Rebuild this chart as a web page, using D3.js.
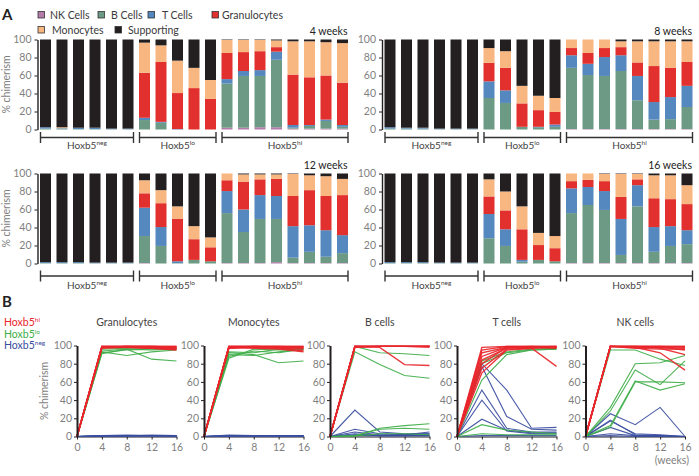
<!DOCTYPE html>
<html>
<head>
<meta charset="utf-8">
<script src="https://cdn.jsdelivr.net/npm/d3@7"></script>
<style>
  body { margin: 0; background: #fff; }
  svg { font-family: Lato, "Open Sans", sans-serif; }
</style>
</head>
<body>
<div id="chart"></div>
<script>
// ---- Panel A data: rows are mice, columns follow cellTypes (NK, B, T, Gran, Mono, Supporting)
const cellTypes = ["NK Cells", "B Cells", "T Cells", "Granulocytes", "Monocytes", "Supporting"];
const cellColors = ["#b47cab", "#6d9a84", "#5588be", "#e2302f", "#f8b680", "#231f20"];

const groupNames = ["neg", "lo", "hi"];
const groupSizes = [6, 5, 8];

const week4 = [
  [0, 1, 1.5, 0, 0, 97.5], [0, 1, 0.5, 0, 1, 97.5], [0, 0.5, 1.5, 0, 0, 98],
  [0, 0.5, 1.5, 0, 0, 98], [0, 0.3, 0.7, 0, 0, 99], [0, 0.3, 0.7, 0, 0, 99],
  [0, 10.5, 2.5, 50, 33.5, 3.5], [0, 7.5, 1, 66.5, 18.5, 6.5], [0, 0, 0.5, 40, 36, 23.5],
  [0, 0, 0, 46, 22.5, 31.5], [0, 0, 0, 34, 21, 45],
  [2, 49, 5, 29, 14.5, 0.5], [2, 57.5, 5.5, 21, 13.5, 0.5], [2.5, 57, 6.5, 21, 12.5, 0.5],
  [2.5, 75, 9, 5, 7.5, 1], [1, 1, 3, 56, 37, 2], [1, 3, 1, 53, 40, 2],
  [1, 8.5, 1.5, 49, 37, 3], [1, 2, 2, 47, 44, 4]
];
const week8 = [
  [0, 1, 1.5, 0, 0, 97.5], [0, 1, 1, 0, 0, 98], [0, 1, 1, 0, 0, 98],
  [0, 0.4, 0.6, 0, 0, 99], [0, 0.4, 0.6, 0, 0, 99], [0, 0.4, 0.6, 0, 0, 99],
  [0, 35, 18.5, 20.5, 16.5, 9.5], [0, 29.5, 14, 25, 18.5, 13], [0, 3, 0, 26, 19.5, 51.5],
  [0, 2.5, 0.5, 18.5, 16, 62.5], [0, 3, 2.5, 14, 15.5, 65],
  [0.5, 68, 14, 8, 9.5, 0], [0.5, 60, 12.5, 12, 15, 0], [0.5, 59, 21, 10, 9.5, 0],
  [0.5, 64.5, 17.5, 9, 6.5, 2], [0.5, 32, 27, 15, 23.5, 2], [0.5, 10.5, 19.5, 40, 27.5, 2],
  [0.5, 11, 24.5, 32.5, 29.5, 2], [0.5, 24.5, 23.5, 26.5, 23, 2]
];
const week12 = [
  [0, 0.5, 1, 0, 0, 98.5], [0, 0.5, 1, 0, 0, 98.5], [0, 0.5, 1, 0, 0, 98.5],
  [0, 0.3, 0.7, 0, 0, 99], [0, 0.3, 0.7, 0, 0, 99], [0, 0.3, 0.7, 0, 0, 99],
  [0.5, 30, 31.5, 16, 14.5, 7.5], [0, 19.5, 21, 26.5, 14.5, 18.5], [0, 0.5, 2, 47, 14, 36.5],
  [0, 4, 0, 23, 14.5, 58.5], [0, 2.5, 0, 15.5, 11, 71],
  [0.5, 55.5, 24.5, 12, 7.5, 0], [0.5, 34.5, 25, 31, 8, 1], [0.5, 49, 26.5, 17.5, 5.5, 1],
  [1.5, 48, 25.5, 19, 5, 1], [0.5, 6, 35, 33.5, 24.5, 0.5], [0.5, 12.5, 29.5, 39, 16.5, 2],
  [0.5, 7, 29.5, 38, 22, 3], [0.5, 11, 20, 44.5, 18, 6]
];
const week16 = [
  [0, 0.5, 1, 0, 0, 98.5], [0, 0.5, 1, 0, 0, 98.5], [0, 0.5, 1, 0, 0, 98.5],
  [0, 0.3, 0.7, 0, 0, 99], [0, 0.3, 0.7, 0, 0, 99], [0, 0.3, 0.7, 0, 0, 99],
  [0, 28, 27, 19.5, 19, 6.5], [0, 19.5, 18.5, 21, 21, 20], [0, 2, 2, 34, 25.5, 36.5],
  [0, 4, 0, 16.5, 13.5, 66], [0, 2.5, 0, 14.5, 13.5, 69.5],
  [0.5, 55.5, 27.5, 8, 8.5, 0], [0.5, 64.5, 20, 8, 7, 0], [0.5, 59, 21, 11, 8, 0.5],
  [0.5, 9, 40, 24.5, 25.5, 0.5], [0.5, 63, 23.5, 6.5, 6, 0.5], [0.5, 12.5, 27.5, 32, 25.5, 2],
  [0.5, 19, 22, 30, 26.5, 2], [0.5, 21, 15.5, 29, 21, 13]
];
const yTicksA = [0, 20, 40, 60, 80, 100];

// ---- Panel B data: each line is one mouse at weeks 0, 4, 8, 12, 16
const weeksB = [0, 4, 8, 12, 16];
const lineTitles = ["Granulocytes", "Monocytes", "B cells", "T cells", "NK cells"];
const groupColors = { hi: "#e8262b", lo: "#3fae49", neg: "#3a4da0" };

const granHi = [[0,99,99,99,99],[0,98,99,99,98],[0,98,98,98,97],[0,99,99,99,98],[0,97,98,97,95],[0,98,99,99,99],[0,99,99,98,97],[0,98,98,97,96]];
const granLo = [[0,93,89,93,95],[0,91,96,85,83],[0,94,96,95,96],[0,92,95,96,97],[0,96,97,97,96]];
const granNeg = [[0,1,1,1,1],[0,0.5,0.5,0.5,0.5],[0,1,1.5,1,0.5],[0,0.3,0.5,0.5,0.3],[0,0.5,1,1,1],[0,1,0.5,1.5,1]];

const monoHi = [[0,99,99,99,99],[0,98,99,99,98],[0,97,98,97,94],[0,99,99,98,97],[0,98,97,96,93],[0,99,99,99,99],[0,98,98,97,96],[0,97,99,98,98]];
const monoLo = [[0,92,90,81,83],[0,88,94,92,96],[0,90,89,93,96],[0,86,96,95,95],[0,93,92,96,97]];
const monoNeg = [[0,1,1,1,1],[0,0.5,1,0.5,0.5],[0,1,0.5,1,1],[0,0.3,0.5,0.5,0.3],[0,1.5,1,1,1],[0,0.5,0.5,1,0.5]];

const bHi = [[0,99,99,99,99],[0,99,99,99,99],[0,99,99,99,99],[0,98,99,99,99],[0,99,98,79,78],[0,99,99,99,99],[0,98,99,99,99],[0,99,99,99,98]];
const bLo = [[0,99,92,91,89],[0,93,79,67,64],[0,0.5,9,12,14],[0,1,8,9,8],[0,0.5,3,3,2]];
const bNeg = [[0,29,5,3,3],[0,8,3,2,5],[0,5,2,2,3],[0,3,1,1,1],[0,1,1,1,1],[0,2,1,1,2]];

const tHi = [[0,98,99,99,99],[0,95,99,99,98],[0,92,98,98,98],[0,88,98,99,99],[0,84,97,98,99],[0,80,98,98,97],[0,75,96,97,77],[0,70,95,97,98]];
const tLo = [[0,83,93,96,97],[0,80,92,95,96],[0,62,90,95,96],[0,13,7,5,3],[0,3,2,2,2]];
const tNeg = [[0,80,51,9,10],[0,77,22,8,7],[0,51,9,5,5],[0,40,6,3,3],[0,19,7,4,4],[0,1,1,1,1]];

const nkHi = [[0,99,99,99,99],[0,99,99,99,98],[0,99,98,98,97],[0,99,97,96,96],[0,99,99,97,90],[0,99,98,92,73],[0,99,99,99,99],[0,99,98,98,95]];
const nkLo = [[0,95,95,85,78],[0,32,80,81,89],[0,28,73,57,83],[0,12,61,51,58],[0,10,60,60,59]];
const nkNeg = [[0,25,13,32,0],[0,18,2,1,0],[0,17,3,2,0],[0,10,1,1,0],[0,3,1,0,0],[0,1,0,0,0]];

const linesB = [
  { neg: granNeg, lo: granLo, hi: granHi },
  { neg: monoNeg, lo: monoLo, hi: monoHi },
  { neg: bNeg, lo: bLo, hi: bHi },
  { neg: tNeg, lo: tLo, hi: tHi },
  { neg: nkNeg, lo: nkLo, hi: nkHi }
];

// ---- Layout
const svg = d3.select("#chart").append("svg")
  .attr("width", 699)
  .attr("height", 476);

const tickGray = "#7f7f7f";
const textDark = "#3a3a3a";

function hoxLabel(sel, sup) {
  sel.append("tspan").text("Hoxb5");
  sel.append("tspan").text(sup)
    .attr("font-size", 6.5)
    .attr("dy", -4);
}

// Panel letters
svg.append("text").attr("x", 2).attr("y", 20).attr("font-size", 15).attr("font-weight", "bold")
  .attr("fill", "#222").text("A");
svg.append("text").attr("x", 2).attr("y", 307).attr("font-size", 15).attr("font-weight", "bold")
  .attr("fill", "#222").text("B");

// Legend of panel A
const legendPos = [
  { sx: 38, tx: 50, y: 19 }, { sx: 98, tx: 111, y: 19 }, { sx: 148, tx: 162, y: 19 },
  { sx: 212, tx: 222, y: 19 }, { sx: 38, tx: 52, y: 34 }, { sx: 115, tx: 128, y: 34 }
];
cellTypes.forEach((name, i) => {
  const p = legendPos[i];
  svg.append("rect")
    .attr("x", p.sx).attr("y", p.y - 7.5).attr("width", 6.5).attr("height", 6.5)
    .attr("fill", cellColors[i]).attr("stroke", "#333").attr("stroke-width", 0.8);
  svg.append("text").attr("x", p.tx).attr("y", p.y).attr("font-size", 10.5)
    .attr("fill", textDark).text(name);
});

const panelsA = [
  { title: "4 weeks", data: week4, axisX: 37.5, yTop: 39.5, yBottom: 129.5, bracketY: 137.5, labelY: 149, titleY: 35, yLabel: true },
  { title: "8 weeks", data: week8, axisX: 382, yTop: 39.5, yBottom: 129.5, bracketY: 137.5, labelY: 149, titleY: 35, yLabel: false },
  { title: "12 weeks", data: week12, axisX: 37.5, yTop: 173.5, yBottom: 263.5, bracketY: 276, labelY: 288.5, titleY: 169, yLabel: true },
  { title: "16 weeks", data: week16, axisX: 382, yTop: 173.5, yBottom: 263.5, bracketY: 276, labelY: 288.5, titleY: 169, yLabel: false }
];

const groupStarts = [0].concat(Array.from(d3.cumsum(groupSizes)).slice(0, -1));

panelsA.forEach(p => {
  const g = svg.append("g");
  const y = d3.scaleLinear([0, 100], [p.yBottom, p.yTop]);
  const x = d3.scaleBand(d3.range(p.data.length), [p.axisX + 2.5, p.axisX + 310.5]).paddingInner(1 / 3);

  const series = d3.stack().keys(d3.range(cellTypes.length))(p.data);

  g.selectAll("g.layer")
    .data(series)
    .join("g")
    .attr("fill", (d, i) => cellColors[i])
    .selectAll("rect")
    .data(d => d)
    .join("rect")
    .attr("x", (d, i) => x(i))
    .attr("width", x.bandwidth())
    .attr("y", d => y(d[1]))
    .attr("height", d => Math.max(0, y(d[0]) - y(d[1])));

  const ax = g.append("g")
    .attr("transform", `translate(${p.axisX},0)`)
    .call(d3.axisLeft(y).tickValues(yTicksA).tickSize(3).tickPadding(3).tickSizeOuter(0));
  ax.select(".domain").attr("stroke", "#231f20").attr("stroke-width", 1.4);
  ax.selectAll(".tick line").attr("stroke", "#231f20").attr("stroke-width", 1);
  ax.selectAll(".tick text").attr("fill", tickGray).attr("font-size", 10.5).attr("font-family", "Lato, sans-serif");

  if (p.yLabel) {
    g.append("text")
      .attr("transform", `translate(10,${(p.yTop + p.yBottom) / 2}) rotate(-90)`)
      .attr("text-anchor", "middle")
      .attr("font-size", 10.5)
      .attr("fill", tickGray)
      .text("% chimerism");
  }

  g.append("text")
    .attr("x", p.axisX + 310).attr("y", p.titleY)
    .attr("text-anchor", "end").attr("font-size", 10.5).attr("fill", "#222")
    .text(p.title);

  // Group brackets
  groupNames.forEach((name, gi) => {
    const first = groupStarts[gi];
    const last = first + groupSizes[gi] - 1;
    const x1 = x(first) + 0.5;
    const x2 = x(last) + x.bandwidth();
    const br = g.append("g").attr("stroke", "#333").attr("stroke-width", 1.4);
    br.append("line").attr("x1", x1).attr("x2", x2).attr("y1", p.bracketY).attr("y2", p.bracketY);
    br.append("line").attr("x1", x1).attr("x2", x1).attr("y1", p.bracketY - 5.5).attr("y2", p.bracketY + 5.5);
    br.append("line").attr("x1", x2).attr("x2", x2).attr("y1", p.bracketY - 5.5).attr("y2", p.bracketY + 5.5);

    g.append("text")
      .attr("x", (x1 + x2) / 2).attr("y", p.labelY)
      .attr("text-anchor", "middle").attr("font-size", 10).attr("fill", "#444")
      .call(hoxLabel, name);
  });
});

// ---- Panel B
const legendB = [["hi", 326], ["lo", 337.5], ["neg", 349]];
legendB.forEach(([name, yy]) => {
  svg.append("text").attr("x", 4).attr("y", yy).attr("font-size", 10.5)
    .attr("fill", groupColors[name]).call(hoxLabel, name);
});

const axisXB = [77, 204, 330, 457, 585.5];
const widthB = 99.5;
const yTopB = 345.5, yBottomB = 436.5;

lineTitles.forEach((title, i) => {
  const g = svg.append("g");
  const x = d3.scaleLinear([0, 16], [axisXB[i], axisXB[i] + widthB]);
  const y = d3.scaleLinear([0, 100], [yBottomB, yTopB]);

  const xa = g.append("g")
    .attr("transform", `translate(0,${yBottomB})`)
    .call(d3.axisBottom(x).tickValues(weeksB).tickSize(3).tickPadding(4).tickSizeOuter(0));
  xa.select(".domain").attr("stroke", "#231f20").attr("stroke-width", 1.2);
  xa.selectAll(".tick line").attr("stroke", "#231f20");
  xa.selectAll(".tick text").attr("fill", tickGray).attr("font-size", 10.5).attr("font-family", "Lato, sans-serif");

  const line = d3.line().x((d, k) => x(weeksB[k])).y(d => y(d));

  ["neg", "lo", "hi"].forEach(grp => {
    g.append("g")
      .selectAll("path")
      .data(linesB[i][grp])
      .join("path")
      .attr("d", line)
      .attr("fill", "none")
      .attr("stroke", groupColors[grp])
      .attr("stroke-width", grp === "hi" ? 1.4 : 1.1)
      .attr("stroke-opacity", 0.92);
  });

  const ya = g.append("g")
    .attr("transform", `translate(${axisXB[i]},0)`)
    .call(d3.axisLeft(y).tickValues(yTicksA).tickSize(3).tickPadding(2).tickSizeOuter(0));
  ya.select(".domain").attr("stroke", "#231f20").attr("stroke-width", 2);
  ya.selectAll(".tick line").attr("stroke", "#231f20");
  ya.selectAll(".tick text").attr("fill", tickGray).attr("font-size", 10.5).attr("font-family", "Lato, sans-serif");

  g.append("text")
    .attr("x", axisXB[i] + widthB / 2).attr("y", 326)
    .attr("text-anchor", "middle").attr("font-size", 10.5).attr("fill", "#444")
    .text(title);
});

svg.append("text")
  .attr("transform", `translate(48,${(yTopB + yBottomB) / 2}) rotate(-90)`)
  .attr("text-anchor", "middle").attr("font-size", 10.5).attr("fill", tickGray)
  .text("% chimerism");

svg.append("text")
  .attr("x", 689).attr("y", 464)
  .attr("text-anchor", "end").attr("font-size", 10.5).attr("fill", tickGray)
  .text("(weeks)");
</script>
</body>
</html>
